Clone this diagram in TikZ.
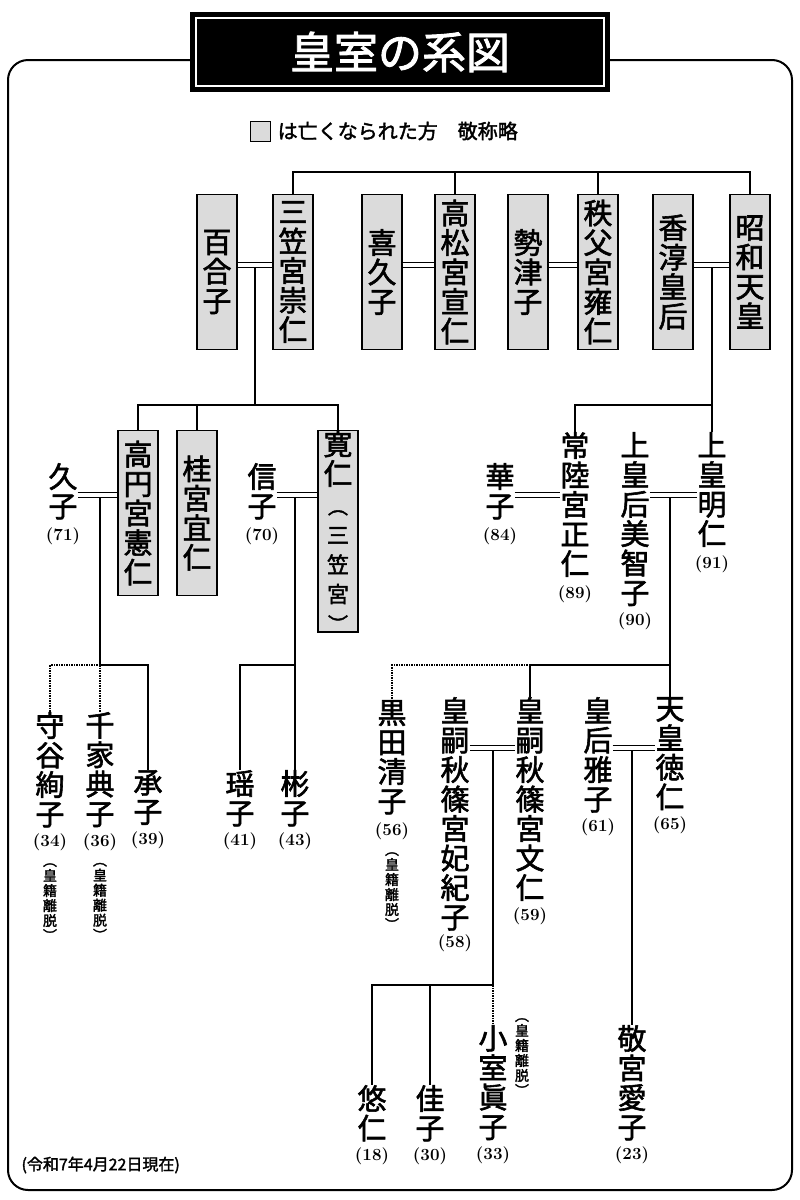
\documentclass[tikz,border=0pt]{standalone}
\usepackage{fontspec}
\newfontfamily\jp[FakeBold=2]{Noto Sans CJK JP}
\usetikzlibrary{positioning}
\tikzset{
    nm/.style={font=\jp\fontsize{29}{29.5}\selectfont, align=center, inner sep=0pt},
    dead/.style={nm, draw=black, line width=1.2pt, fill=gray!28,
        minimum width=40pt, minimum height=155pt},
    age/.style={font=\bfseries\fontsize{17}{17}\selectfont, inner sep=0pt},
    off/.style={font=\jp\fontsize{14}{15}\selectfont, align=center, inner sep=0pt},
    ln/.style={line width=1.5pt},
    dot/.style={line width=1.5pt, densely dotted},
    marr/.style={double distance=4pt, line width=1.3pt}
}
\newcommand{\kdz}{︵\\皇\\籍\\離\\脱\\︶}
\begin{document}
\begin{tikzpicture}[x=1pt, y=-1pt]
\useasboundingbox (0,0) rectangle (800,1200);
% frame and title
\draw[line width=2pt, rounded corners=20pt] (8,60) rectangle (792,1190);
\node[fill=black, minimum width=420pt, minimum height=80pt, inner sep=0pt] (title) at (400,52) {};
\draw[white, line width=1.5pt] (196,18) rectangle (604,86);
\node[text=white, font=\jp\fontsize{44}{44}\selectfont] (titletext) at (title) {皇室の系図};
\node[draw, fill=gray!28, minimum size=20pt, inner sep=0pt] (key) at (260,131) {};
\node[font=\jp\fontsize{20}{20}\selectfont, anchor=west, right=4pt of key] (keytext) {は亡くなられた方　敬称略};

% first generation
\node[dead] (yuriko)    at (217,272) {百\\合\\子};
\node[dead] (mikasa)    at (293,272) {三\\笠\\宮\\崇\\仁};
\node[dead] (kikuko)    at (382,272) {喜\\久\\子};
\node[dead] (takamatsu) at (455,272) {高\\松\\宮\\宣\\仁};
\node[dead] (setsuko)   at (528,272) {勢\\津\\子};
\node[dead] (chichibu)  at (598,272) {秩\\父\\宮\\雍\\仁};
\node[dead] (kojun)     at (673,272) {香\\淳\\皇\\后};
\node[dead] (showa)     at (750,272) {昭\\和\\天\\皇};

\coordinate (top) at (0,172);
\draw[ln] (mikasa.north) |- (showa.north |- top) -- (showa.north);
\draw[ln] (takamatsu.north) -- (takamatsu.north |- top);
\draw[ln] (chichibu.north) -- (chichibu.north |- top);
\draw[marr] (yuriko.east |- 0,265) -- (mikasa.west |- 0,265);
\draw[marr] (kikuko.east |- 0,265) -- (takamatsu.west |- 0,265);
\draw[marr] (setsuko.east |- 0,265) -- (chichibu.west |- 0,265);
\draw[marr] (kojun.east |- 0,265) -- (showa.west |- 0,265);

% Mikasa line
\node[dead, anchor=north, minimum height=165pt] (norihito)  at (138,430) {高\\円\\宮\\憲\\仁};
\node[dead, anchor=north, minimum height=165pt] (yoshihito) at (197,430) {桂\\宮\\宜\\仁};
\node[dead, anchor=north, minimum height=165pt] (tomohito)  at (338,430)
    {寛\\仁\\{\fontsize{20}{22}\selectfont ︵}\\{\fontsize{22}{24}\selectfont 三}\\{\fontsize{22}{24}\selectfont 笠}\\{\fontsize{22}{24}\selectfont 宮}\\{\fontsize{20}{22}\selectfont ︶}};
\coordinate (c1) at (255,268);
\coordinate (c1b) at (255,405);
\draw[ln] (c1) -- (c1b);
\draw[ln] (norihito.north) |- (tomohito.north |- c1b) -- (tomohito.north);
\draw[ln] (yoshihito.north) -- (yoshihito.north |- c1b);

\node[nm, anchor=north] (hisako) at (63,463) {久\\子};
\node[age, below=8pt of hisako] (hisako-a) {(71)};
\node[nm, anchor=north] (nobuko) at (262,463) {信\\子};
\node[age, below=8pt of nobuko] (nobuko-a) {(70)};
\draw[marr] (hisako.east |- 0,495) -- (norihito.west |- 0,495);
\draw[marr] (nobuko.east |- 0,495) -- (tomohito.west |- 0,495);

\node[nm, anchor=north] (ayako)   at (50,712)  {守\\谷\\絢\\子};
\node[age, below=6pt of ayako] (ayako-a) {(34)};
\node[off, below=12pt of ayako-a] (ayako-o) {\kdz};
\node[nm, anchor=north] (noriko)  at (100,712) {千\\家\\典\\子};
\node[age, below=6pt of noriko] (noriko-a) {(36)};
\node[off, below=12pt of noriko-a] (noriko-o) {\kdz};
\node[nm, anchor=north] (tsuguko) at (148,770) {承\\子};
\node[age, below=6pt of tsuguko] (tsuguko-a) {(39)};
\coordinate (c2) at (100,498);
\coordinate (c2b) at (100,665);
\draw[ln] (c2) -- (c2b) -| (tsuguko.north);
\draw[dot] (c2b) -- (noriko.north);
\draw[dot] (c2b) -| (ayako.north);

\node[nm, anchor=north] (yoko)    at (240,770) {瑶\\子};
\node[age, below=6pt of yoko] (yoko-a) {(41)};
\node[nm, anchor=north] (akiko)   at (295,770) {彬\\子};
\node[age, below=6pt of akiko] (akiko-a) {(43)};
\coordinate (c3) at (295,498);
\coordinate (c3b) at (295,665);
\draw[ln] (c3) -- (akiko.north);
\draw[ln] (c3b) -| (yoko.north);

% Showa line
\node[nm, anchor=north] (hitachi)  at (575,432) {常\\陸\\宮\\正\\仁};
\node[age, below=8pt of hitachi] (hitachi-a) {(89)};
\node[nm, anchor=north] (hanako)   at (500,463) {華\\子};
\node[age, below=8pt of hanako] (hanako-a) {(84)};
\node[nm, anchor=north] (akihito)  at (712,432) {上\\皇\\明\\仁};
\node[age, below=8pt of akihito] (akihito-a) {(91)};
\node[nm, anchor=north] (michiko)  at (635,432) {上\\皇\\后\\美\\智\\子};
\node[age, below=6pt of michiko] (michiko-a) {(90)};
\coordinate (c4) at (712,268);
\coordinate (c4b) at (712,405);
\draw[ln] (c4) -- (akihito.north);
\draw[ln] (c4b) -| (hitachi.north);
\draw[marr] (hanako.east |- 0,495) -- (hitachi.west |- 0,495);
\draw[marr] (michiko.east |- 0,495) -- (akihito.west |- 0,495);

\node[nm, anchor=north] (sayako)    at (392,700) {黒\\田\\清\\子};
\node[age, below=8pt of sayako] (sayako-a) {(56)};
\node[off, below=12pt of sayako-a] (sayako-o) {\kdz};
\node[nm, anchor=north] (kiko)      at (455,697) {皇\\嗣\\秋\\篠\\宮\\妃\\紀\\子};
\node[age, below=4pt of kiko] (kiko-a) {(58)};
\node[nm, anchor=north] (fumihito)  at (530,697) {皇\\嗣\\秋\\篠\\宮\\文\\仁};
\node[age, below=6pt of fumihito] (fumihito-a) {(59)};
\node[nm, anchor=north] (masako)    at (598,697) {皇\\后\\雅\\子};
\node[age, below=6pt of masako] (masako-a) {(61)};
\node[nm, anchor=north] (naruhito)  at (670,697) {天\\皇\\徳\\仁};
\node[age, below=6pt of naruhito] (naruhito-a) {(65)};
\coordinate (c5) at (670,498);
\coordinate (c5b) at (670,665);
\draw[ln] (c5) -- (naruhito.north);
\draw[ln] (c5b) -| (fumihito.north);
\draw[dot] (fumihito.north |- c5b) -| (sayako.north);
\draw[marr] (kiko.east |- 0,748) -- (fumihito.west |- 0,748);
\draw[marr] (masako.east |- 0,748) -- (naruhito.west |- 0,748);

\node[nm, anchor=north] (hisahito) at (372,1085) {悠\\仁};
\node[age, below=6pt of hisahito] (hisahito-a) {(18)};
\node[nm, anchor=north] (kako)     at (430,1085) {佳\\子};
\node[age, below=6pt of kako] (kako-a) {(30)};
\node[nm, anchor=north] (mako)     at (493,1025) {小\\室\\眞\\子};
\node[age, below=6pt of mako] (mako-a) {(33)};
\node[off, anchor=north] (mako-o) at (522,1018) {\kdz};
\node[nm, anchor=north] (aiko)     at (632,1025) {敬\\宮\\愛\\子};
\node[age, below=6pt of aiko] (aiko-a) {(23)};
\coordinate (c6) at (493,751);
\coordinate (c6b) at (493,985);
\draw[ln] (c6) -- (c6b) -| (hisahito.north);
\draw[ln] (kako.north) -- (kako.north |- c6b);
\draw[dot] (c6b) -- (mako.north);
\draw[ln] (632,751) -- (aiko.north);

\node[font=\jp\fontsize{16}{16}\selectfont, anchor=west] (date) at (18,1165) {(令和7年4月22日現在)};
\end{tikzpicture}
\end{document}
